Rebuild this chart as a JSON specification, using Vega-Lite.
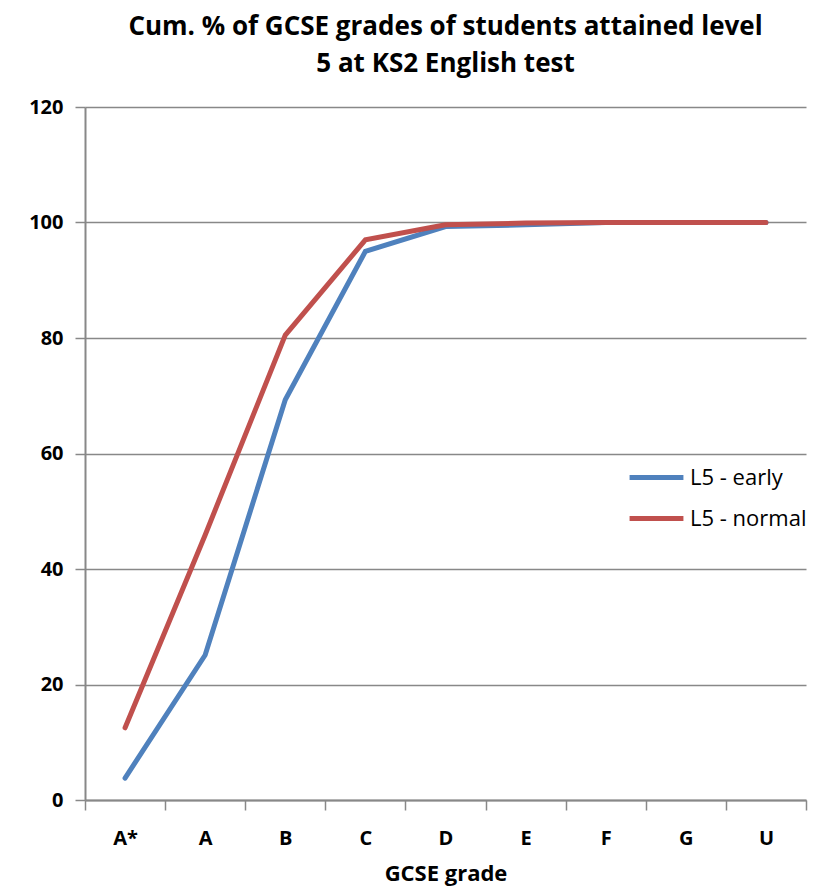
{
  "$schema": "https://vega.github.io/schema/vega-lite/v6.json",
  "width": 721,
  "height": 693,
  "autosize": {"type": "none"},
  "padding": {"left": 85, "top": 107, "right": 9, "bottom": 89},
  "background": "white",
  "title": {
    "text": ["Cum. % of GCSE grades of students attained level", "5 at KS2 English test"],
    "font": "Open Sans",
    "fontSize": 26,
    "fontWeight": "bold",
    "color": "#000000",
    "lineHeight": 37,
    "offset": 20,
    "anchor": "middle"
  },
  "data": {
    "values": [
      {"grade": "A*", "series": "L5 - early", "value": 3.8},
      {"grade": "A", "series": "L5 - early", "value": 25.1},
      {"grade": "B", "series": "L5 - early", "value": 69.3},
      {"grade": "C", "series": "L5 - early", "value": 95.0},
      {"grade": "D", "series": "L5 - early", "value": 99.3},
      {"grade": "E", "series": "L5 - early", "value": 99.6},
      {"grade": "F", "series": "L5 - early", "value": 100},
      {"grade": "G", "series": "L5 - early", "value": 100},
      {"grade": "U", "series": "L5 - early", "value": 100},
      {"grade": "A*", "series": "L5 - normal", "value": 12.5},
      {"grade": "A", "series": "L5 - normal", "value": 45.9},
      {"grade": "B", "series": "L5 - normal", "value": 80.5},
      {"grade": "C", "series": "L5 - normal", "value": 97.0},
      {"grade": "D", "series": "L5 - normal", "value": 99.6},
      {"grade": "E", "series": "L5 - normal", "value": 99.9},
      {"grade": "F", "series": "L5 - normal", "value": 100},
      {"grade": "G", "series": "L5 - normal", "value": 100},
      {"grade": "U", "series": "L5 - normal", "value": 100}
    ]
  },
  "mark": {"type": "line", "strokeWidth": 5, "strokeCap": "round"},
  "encoding": {
    "x": {
      "field": "grade",
      "type": "nominal",
      "sort": ["A*", "A", "B", "C", "D", "E", "F", "G", "U"],
      "scale": {"type": "band", "paddingInner": 0, "paddingOuter": 0},
      "axis": {
        "title": "GCSE  grade",
        "titleFont": "Open Sans",
        "titleFontSize": 22,
        "titleFontWeight": "bold",
        "titleColor": "#000000",
        "titlePadding": 15,
        "labelFont": "Open Sans",
        "labelFontSize": 20,
        "labelFontWeight": "bold",
        "labelColor": "#000000",
        "labelPadding": 18,
        "labelAngle": 0,
        "bandPosition": 0,
        "tickBand": "extent",
        "ticks": true,
        "tickSize": 10,
        "tickColor": "#888888",
        "tickWidth": 1.5,
        "domainColor": "#888888",
        "domainWidth": 2,
        "grid": false
      }
    },
    "y": {
      "field": "value",
      "type": "quantitative",
      "scale": {"domain": [0, 120], "nice": false},
      "axis": {
        "title": null,
        "values": [0, 20, 40, 60, 80, 100, 120],
        "labelFont": "Open Sans",
        "labelFontSize": 20,
        "labelFontWeight": "bold",
        "labelColor": "#000000",
        "labelPadding": 12,
        "tickSize": 10,
        "tickColor": "#888888",
        "tickWidth": 1.5,
        "domainColor": "#888888",
        "domainWidth": 2,
        "grid": true,
        "gridColor": "#888888",
        "gridWidth": 1.5
      }
    },
    "color": {
      "field": "series",
      "type": "nominal",
      "scale": {"domain": ["L5 - early", "L5 - normal"], "range": ["#4F81BD", "#C0504D"]},
      "legend": {
        "title": null,
        "orient": "none",
        "legendX": 542,
        "legendY": 341,
        "symbolType": "stroke",
        "symbolSize": 2900,
        "symbolStrokeWidth": 5,
        "labelFont": "Open Sans",
        "labelFontSize": 22,
        "labelColor": "#000000",
        "labelOffset": 4,
        "rowPadding": -9
      }
    }
  },
  "config": {"view": {"stroke": null}}
}
